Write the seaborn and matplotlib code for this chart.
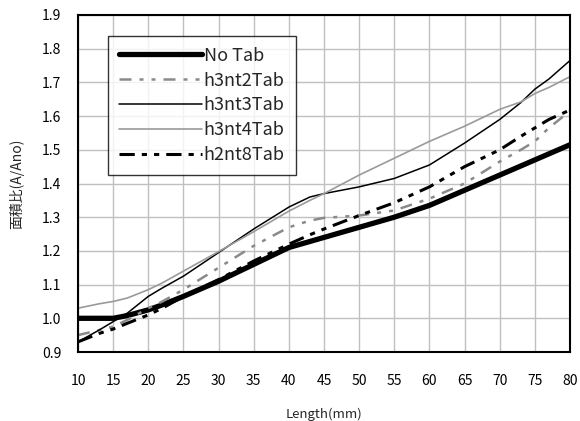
import numpy as np
import pandas as pd
import seaborn as sns
import matplotlib
matplotlib.use('Agg')
import matplotlib.pyplot as plt

# lengths (mm) shared by all series
length = [10, 13, 15, 17, 20, 22, 25, 30, 35, 40, 43, 45, 50, 55, 60, 65, 70, 73, 75, 77, 80]

no_tab = [1.00, 1.00, 1.00, 1.008, 1.025, 1.04, 1.065, 1.11, 1.16, 1.21, 1.228, 1.24, 1.27,
          1.30, 1.335, 1.38, 1.425, 1.452, 1.47, 1.488, 1.515]
h3nt2 = [0.95, 0.965, 0.975, 0.995, 1.03, 1.05, 1.085, 1.15, 1.215, 1.27, 1.29, 1.298, 1.305,
         1.32, 1.355, 1.40, 1.465, 1.50, 1.525, 1.565, 1.615]
h3nt3 = [0.93, 0.965, 0.99, 1.015, 1.065, 1.09, 1.125, 1.195, 1.265, 1.33, 1.36, 1.37, 1.39,
         1.415, 1.455, 1.52, 1.59, 1.64, 1.68, 1.71, 1.765]
h3nt4 = [1.03, 1.043, 1.05, 1.06, 1.085, 1.105, 1.14, 1.198, 1.257, 1.318, 1.35, 1.37, 1.425,
         1.475, 1.525, 1.57, 1.62, 1.642, 1.667, 1.685, 1.717]
h2nt8 = [0.93, 0.955, 0.968, 0.985, 1.01, 1.03, 1.065, 1.115, 1.17, 1.22, 1.248, 1.265, 1.305,
         1.343, 1.39, 1.45, 1.50, 1.54, 1.565, 1.59, 1.618]

labels = ['No Tab', 'h3nt2Tab', 'h3nt3Tab', 'h3nt4Tab', 'h2nt8Tab']
series = [no_tab, h3nt2, h3nt3, h3nt4, h2nt8]

sns.set_style('white')
plt.rcParams['font.family'] = ['Noto Sans CJK JP', 'DejaVu Sans']

# colour, width, dash pattern for each line
styles = {
    'No Tab':   ('black',   3.8, None),
    'h3nt2Tab': ('#8a8a8a', 1.8, (4.8, 3.2, 1.6, 3.2, 1.6, 3.2)),
    'h3nt3Tab': ('black',   1.1, None),
    'h3nt4Tab': ('#9a9a9a', 1.2, None),
    'h2nt8Tab': ('black',   2.2, (5, 2.3, 1.7, 2.3, 1.7, 2.3)),
}

fig = plt.figure(figsize=(5.8, 4.21), dpi=100)
ax = fig.add_axes([78 / 580, 1 - 352 / 421, 492 / 580, 337 / 421])

for lab, vals in zip(labels, series):
    df = pd.DataFrame({'Length': length, 'ratio': vals})
    col, lw, dash = styles[lab]
    sns.lineplot(data=df, x='Length', y='ratio', ax=ax, color=col, lw=lw,
                 label=lab, sort=False)
    if dash is not None:
        ax.lines[-1].set_dashes(dash)

ax.set_xlim(10, 80)
ax.set_ylim(0.9, 1.9)
ax.set_xticks(np.arange(10, 81, 5))
ax.set_yticks(np.round(np.arange(0.9, 1.91, 0.1), 1))
ax.set_yticklabels([f'{v:.1f}' for v in np.arange(0.9, 1.91, 0.1)])
ax.grid(True, color='#c0c0c0', lw=1)
ax.set_axisbelow(True)
for s in ax.spines.values():
    s.set_color('black')
    s.set_linewidth(1.5)
ax.tick_params(axis='x', direction='in', length=5, width=1, pad=16, labelsize=10, colors='black')
ax.tick_params(axis='y', direction='in', length=5, width=1, pad=12, labelsize=10, colors='black')

ax.set_xlabel('Length(mm)', fontsize=9.5)
ax.set_ylabel('面積比(A/Ano)', fontsize=10)
ax.xaxis.set_label_coords(0.5, -0.165)
ax.yaxis.set_label_coords(-0.11, 0.5)

leg = ax.legend(loc='upper left', bbox_to_anchor=(0.061, 0.938), borderaxespad=0,
                fontsize=13, handlelength=4.6, handletextpad=0.1, labelspacing=0.38,
                borderpad=0.6, frameon=True, fancybox=False)
leg.get_frame().set_edgecolor('black')
leg.get_frame().set_linewidth(1)

fig.savefig('out.png', dpi=100)
